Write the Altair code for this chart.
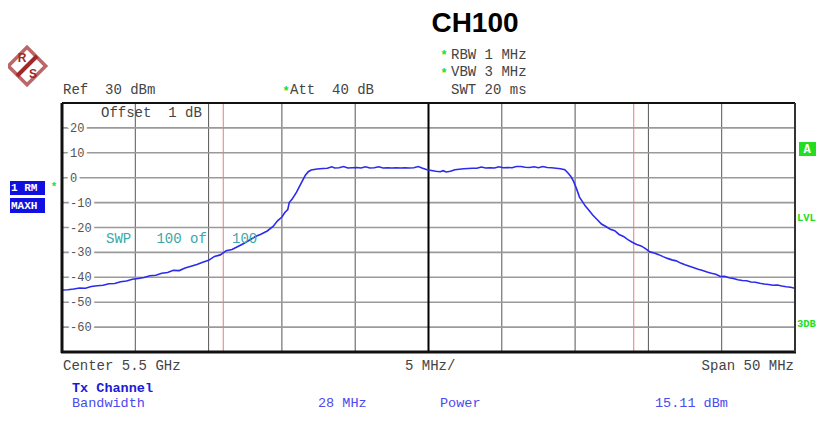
import altair as alt
import pandas as pd

# ---------------- data ----------------
freq_mhz = [
    -25.0, -24.6, -24.2, -23.8, -23.4, -23.0, -22.6, -22.2, -21.8, -21.4,
    -21.0, -20.6, -20.2, -19.8, -19.4, -19.0, -18.6, -18.2, -17.8, -17.4,
    -17.0, -16.6, -16.2, -15.8, -15.4, -15.0, -14.6, -14.2, -13.8, -13.4,
    -13.0, -12.6, -12.2, -11.8, -11.4, -11.0, -10.6, -10.3, -10.0, -9.8,
    -9.6, -9.5, -9.3, -9.0, -8.7, -8.4, -8.2, -8.0, -7.6, -7.2,
    -6.9, -6.6, -6.4, -6.1, -5.8, -5.5, -5.2, -4.9, -4.6, -4.3,
    -4.0, -3.7, -3.4, -3.1, -2.8, -2.5, -2.2, -1.9, -1.6, -1.3,
    -1.0, -0.7, -0.4, -0.1, 0.2, 0.5, 0.8, 1.0, 1.2, 1.5,
    1.8, 2.1, 2.4, 2.7, 3.0, 3.3, 3.6, 3.9, 4.2, 4.5,
    4.8, 5.1, 5.4, 5.7, 6.0, 6.3, 6.6, 6.9, 7.2, 7.5,
    7.8, 8.1, 8.4, 8.7, 9.0, 9.3, 9.5, 9.7, 9.9, 10.1,
    10.3, 10.5, 10.7, 10.9, 11.2, 11.5, 11.8, 12.1, 12.4, 12.7,
    13.0, 13.3, 13.6, 13.9, 14.2, 14.5, 14.8, 15.1, 15.4, 15.7,
    16.0, 16.3, 16.6, 16.9, 17.2, 17.5, 17.8, 18.1, 18.4, 18.7,
    19.0, 19.3, 19.6, 19.9, 20.2, 20.5, 20.8, 21.1, 21.4, 21.7,
    22.0, 22.3, 22.6, 22.9, 23.2, 23.5, 23.8, 24.1, 24.4, 24.7,
    25.0,
]
level_dbm = [
    -45.1, -45.0, -44.7, -44.3, -44.4, -43.7, -43.4, -43.2, -42.6, -42.5,
    -41.8, -41.5, -40.8, -40.5, -40.1, -39.4, -39.2, -38.4, -38.1, -37.2,
    -37.3, -36.3, -35.6, -34.9, -34.0, -33.2, -31.6, -31.0, -29.3, -28.8,
    -27.6, -26.4, -25.0, -23.6, -22.6, -21.4, -19.6, -17.3, -15.8, -14.0,
    -12.8, -10.0, -8.6, -5.8, -2.4, 1.0, 2.4, 3.1, 3.5, 3.7,
    3.8, 4.4, 3.9, 4.0, 4.5, 3.9, 4.0, 4.1, 3.9, 4.4,
    3.9, 4.0, 4.4, 3.9, 4.0, 3.9, 4.0, 3.9, 4.0, 3.9,
    4.0, 4.5, 3.8, 3.2, 2.9, 2.6, 2.4, 2.8, 2.3, 2.6,
    3.2, 3.4, 3.6, 3.7, 3.8, 3.8, 4.3, 3.9, 4.0, 3.9,
    4.4, 4.0, 4.1, 4.0, 4.5, 4.5, 4.2, 4.1, 4.4, 4.0,
    4.5, 4.1, 4.0, 3.8, 3.6, 3.2, 2.0, 0.6, -1.5, -4.5,
    -7.8, -9.6, -11.4, -12.8, -15.0, -16.8, -18.6, -19.6, -20.7, -21.3,
    -22.8, -23.6, -24.9, -25.9, -26.8, -27.4, -28.5, -29.8, -30.2, -30.9,
    -31.7, -32.4, -33.0, -33.4, -34.3, -35.0, -35.6, -36.2, -36.8, -37.3,
    -37.9, -38.4, -38.8, -39.7, -39.6, -40.2, -40.5, -41.0, -41.3, -41.4,
    -41.9, -42.0, -42.4, -42.7, -42.9, -43.2, -43.1, -43.5, -43.8, -44.0,
    -44.4,
]
x_grid_mhz = [-25, -20, -15, -10, -5, 0, 5, 10, 15, 20, 25]
y_grid_db = [20, 10, 0, -10, -20, -30, -40, -50, -60]
y_labels = ["20", "10", "0", "-10", "-20", "-30", "-40", "-50", "-60"]
channel_edges_mhz = [-14, 14]

title_text = "CH100"
ref_text = "Ref  30 dBm"
att_text = "Att  40 dB"
rbw_text = "RBW 1 MHz"
vbw_text = "VBW 3 MHz"
swt_text = "SWT 20 ms"
offset_text = "Offset  1 dB"
swp_text = "SWP   100 of   100"
center_text = "Center 5.5 GHz"
div_text = "5 MHz/"
span_text = "Span 50 MHz"
tx_title = "Tx Channel"
bw_label, bw_value = "Bandwidth", "28 MHz"
pw_label, pw_value = "Power", "15.11 dBm"

# ---------------- chart ----------------
W, H = 733, 249
MONO = "Liberation Mono"
xs = alt.Scale(domain=[-25, 25], nice=False, zero=False)
ys = alt.Scale(domain=[-70, 30], nice=False, zero=False)

trace = pd.DataFrame({"f": freq_mhz, "p": level_dbm})
ygrid = pd.DataFrame({"v": y_grid_db, "lab": y_labels})
xgrid = pd.DataFrame({"f": x_grid_mhz})
edges = pd.DataFrame({"f": channel_edges_mhz})
one = pd.DataFrame({"d": [0]})


def txt(s, x, y, color="#444444", size=14, weight="normal", align="left",
        font=MONO, baseline="middle"):
    return alt.Chart(one).mark_text(
        text=s.replace(" ", "\u00a0"), align=align, baseline=baseline, font=font,
        fontSize=size, fontWeight=weight, color=color,
    ).encode(x=alt.value(x), y=alt.value(y))


def box(x, x2, y, y2, color):
    return alt.Chart(one).mark_rect(color=color).encode(
        x=alt.value(x), x2=alt.value(x2), y=alt.value(y), y2=alt.value(y2))


vgrid = alt.Chart(xgrid).mark_rule(color="#555555", strokeWidth=1).encode(
    x=alt.X("f:Q", scale=xs, axis=None))

hgrid = alt.Chart(ygrid).mark_rule(color="#9a9a9a", strokeWidth=1.6).encode(
    y=alt.Y("v:Q", scale=ys, axis=None), x=alt.value(0), x2=alt.value(W))

center_line = alt.Chart(pd.DataFrame({"f": [0]})).mark_rule(
    color="#000000", strokeWidth=2).encode(x=alt.X("f:Q", scale=xs, axis=None))

red_lines = alt.Chart(edges).mark_rule(color="#f07878", strokeWidth=1).encode(
    x=alt.X("f:Q", scale=xs, axis=None))

halo = alt.Chart(ygrid).mark_text(
    align="left", baseline="middle", font=MONO, fontSize=12,
    color="white", stroke="white", strokeWidth=6,
).encode(x=alt.value(8), y=alt.Y("v:Q", scale=ys, axis=None), text="lab:N")

ylab = alt.Chart(ygrid).mark_text(
    align="left", baseline="middle", font=MONO, fontSize=12, color="#555555",
).encode(x=alt.value(8), y=alt.Y("v:Q", scale=ys, axis=None), text="lab:N")

line = alt.Chart(trace).mark_line(color="#2b2bef", strokeWidth=1.6, clip=True).encode(
    x=alt.X("f:Q", scale=xs, axis=None),
    y=alt.Y("p:Q", scale=ys, axis=None),
)

frame_l = alt.Chart(one).mark_rule(color="#111111", strokeWidth=3).encode(
    x=alt.value(0), y=alt.value(0), y2=alt.value(H + 1))
frame_b = alt.Chart(one).mark_rule(color="#111111", strokeWidth=3).encode(
    x=alt.value(-1), x2=alt.value(W + 1), y=alt.value(H))
frame_t = alt.Chart(one).mark_rule(color="#111111", strokeWidth=2).encode(
    x=alt.value(0), x2=alt.value(W), y=alt.value(0))
frame_r = alt.Chart(one).mark_rule(color="#333333", strokeWidth=2).encode(
    x=alt.value(W), y=alt.value(0), y2=alt.value(H))

GREEN = "#22dd22"
DRED = "#a02828"

# logo
logo_d = alt.Chart(one).mark_point(
    shape="diamond", size=1400, filled=False, stroke=DRED, strokeWidth=3.5
).encode(x=alt.value(-35), y=alt.value(-37))
logo_band = alt.Chart(one).mark_rule(color=DRED, strokeWidth=4).encode(
    x=alt.value(-25), y=alt.value(-47), x2=alt.value(-45), y2=alt.value(-27))

layers = [
    vgrid, hgrid, red_lines, center_line, halo, ylab, line,
    frame_l, frame_b, frame_t, frame_r,
    logo_d, logo_band,
    txt("R", -40, -45, color=DRED, size=12, weight="bold", align="center", font="Liberation Sans"),
    txt("S", -29, -29, color=DRED, size=12, weight="bold", align="center", font="Liberation Sans"),
    txt(title_text, 413, -71, color="#000000", size=28, weight="bold",
        align="center", font="Liberation Sans", baseline="alphabetic"),
    txt("*", 382, -48, color=GREEN, size=12, weight="bold", align="center"),
    txt(rbw_text, 389, -48),
    txt("*", 382, -30, color=GREEN, size=12, weight="bold", align="center"),
    txt(vbw_text, 389, -31),
    txt(swt_text, 389, -13),
    txt(ref_text, 1, -13),
    txt("*", 224, -12, color=GREEN, size=12, weight="bold", align="center"),
    txt(att_text, 228, -13),
    txt(offset_text, 39, 10),
    txt(swp_text, 44, 136, color="#3aa8a8"),
    txt(center_text, 1, 263),
    txt(div_text, 343, 263),
    txt(span_text, 732, 263, align="right"),
    txt(tx_title, 10, 285, color="#1a1ad8", weight="bold", size=13.5),
    txt(bw_label, 10, 300, color="#4a4af0", size=13.5),
    txt(bw_value, 256, 300, color="#4a4af0", size=13.5),
    txt(pw_label, 378, 300, color="#4a4af0", size=13.5),
    txt(pw_value, 593, 300, color="#4a4af0", size=13.5),
    # left trace info boxes
    box(-52, -17, 78, 92, "#1010e0"),
    box(-52, -17, 95, 110, "#1010e0"),
    txt("1 RM", -51, 85, color="white", size=11, weight="bold"),
    txt("MAXH", -51, 103, color="white", size=11, weight="bold"),
    txt("*", -8, 84, color=GREEN, size=11, weight="bold", align="center"),
    # right side indicators
    box(737, 754, 39, 53, GREEN),
    txt("A", 745, 46, color="white", size=12, weight="bold", align="center"),
    txt("LVL", 735, 115, color=GREEN, size=10.5, weight="bold"),
    txt("3DB", 735, 221, color=GREEN, size=10.5, weight="bold"),
]

chart = alt.layer(*layers).properties(
    width=W, height=H,
    autosize=alt.AutoSizeParams(type="none"),
    padding={"left": 54, "top": 95, "right": 21, "bottom": 59},
).configure_view(stroke=None).configure(background="white")

chart.save("out.html", embed_options={"renderer": "svg", "actions": False})
